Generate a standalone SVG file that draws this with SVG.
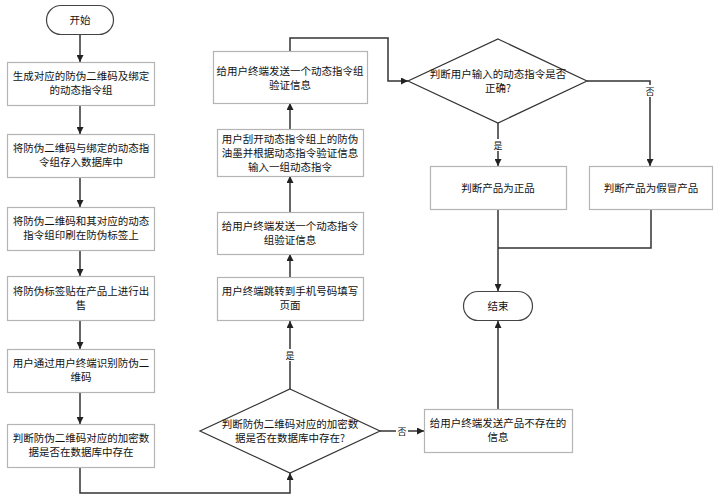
<svg xmlns="http://www.w3.org/2000/svg" width="718" height="500" viewBox="0 0 718 500">
<defs>
<marker id="ah" viewBox="0 0 10 10" refX="10" refY="5" markerWidth="7" markerHeight="7" orient="auto" markerUnits="userSpaceOnUse">
<path d="M0,0 L10,5 L0,10 z" fill="#222"/>
</marker>
<style>
.box{fill:#fff;stroke:#b4b4b4;stroke-width:1.2}
.term{fill:#fff;stroke:#444;stroke-width:1.2}
.dia{fill:#fff;stroke:#333;stroke-width:1.2}
.ln{fill:none;stroke:#333;stroke-width:1.5;marker-end:url(#ah)}
.ln0{fill:none;stroke:#333;stroke-width:1.5}
text{font-family:"Noto Sans CJK SC","Noto Sans",sans-serif;font-size:10.5px;fill:#111;text-anchor:middle}
.lb{font-size:9px}
</style>
</defs>
<rect width="718" height="500" fill="#fff"/>
<g id="connectors">
<path class="ln" d="M80,35 V62"/>
<path class="ln" d="M80,106 V134"/>
<path class="ln" d="M80,178 V207"/>
<path class="ln" d="M80,251 V276"/>
<path class="ln" d="M80,321 V349"/>
<path class="ln" d="M80,392 V424"/>
<path class="ln" d="M80,467 V493 H290 V473"/>
<path class="ln" d="M290,389 V321"/>
<path class="ln" d="M290,277 V254"/>
<path class="ln" d="M290,212 V176"/>
<path class="ln" d="M290,129 V103"/>
<path class="ln" d="M290,51 V38 H388 V81 H408"/>
<path class="ln" d="M380,431 H424"/>
<path class="ln" d="M498,123 V166"/>
<path class="ln" d="M587,81 H650 V166"/>
<path class="ln0" d="M651,209 V248 H498"/>
<path class="ln" d="M498,209 V291"/>
<path class="ln" d="M498,409 V321"/>
<rect x="284" y="349" width="12" height="12" fill="#fff"/>
<text class="lb" x="290" y="359">是</text>
<rect x="396" y="425" width="12" height="12" fill="#fff"/>
<text class="lb" x="402" y="435">否</text>
<rect x="492" y="139" width="12" height="12" fill="#fff"/>
<text class="lb" x="498" y="149">是</text>
<rect x="644" y="85" width="12" height="12" fill="#fff"/>
<text class="lb" x="650" y="95">否</text>
</g>
<g id="start"><rect class="term" x="46.5" y="5.5" width="67" height="29" rx="14.5"/><text x="80" y="24">开始</text></g>
<g id="n1"><rect class="box" x="7.5" y="62.5" width="147" height="43"/><text x="81" y="80">生成对应的防伪二维码及绑定</text><text x="81" y="94">的动态指令组</text></g>
<g id="n2"><rect class="box" x="7.5" y="134.5" width="147" height="43"/><text x="81" y="152">将防伪二维码与绑定的动态指</text><text x="81" y="166">令组存入数据库中</text></g>
<g id="n3"><rect class="box" x="7.5" y="207.5" width="147" height="43"/><text x="81" y="225">将防伪二维码和其对应的动态</text><text x="81" y="239">指令组印刷在防伪标签上</text></g>
<g id="n4"><rect class="box" x="7.5" y="276.5" width="147" height="44"/><text x="81" y="295">将防伪标签贴在产品上进行出</text><text x="81" y="309">售</text></g>
<g id="n5"><rect class="box" x="7.5" y="349.5" width="147" height="43"/><text x="81" y="367">用户通过用户终端识别防伪二</text><text x="81" y="381">维码</text></g>
<g id="n6"><rect class="box" x="7.5" y="424.5" width="147" height="43"/><text x="81" y="442">判断防伪二维码对应的加密数</text><text x="81" y="456">据是否在数据库中存在</text></g>
<g id="d1"><polygon class="dia" points="290,389 380,431 290,473 200,431"/><text x="290" y="428">判断防伪二维码对应的加密数</text><text x="290" y="442">据是否在数据库中存在?</text></g>
<g id="m4"><rect class="box" x="217.5" y="277.5" width="146" height="43"/><text x="290" y="295">用户终端跳转到手机号码填写</text><text x="290" y="309">页面</text></g>
<g id="m3"><rect class="box" x="217.5" y="212.5" width="146" height="42"/><text x="290" y="230">给用户终端发送一个动态指令</text><text x="290" y="244">组验证信息</text></g>
<g id="m2"><rect class="box" x="217.5" y="129.5" width="146" height="47"/><text x="290" y="143">用户刮开动态指令组上的防伪</text><text x="290" y="157">油墨并根据动态指令验证信息</text><text x="290" y="171">输入一组动态指令</text></g>
<g id="m1"><rect class="box" x="213.5" y="51.5" width="154" height="52"/><text x="290" y="75">给用户终端发送一个动态指令组</text><text x="290" y="89">验证信息</text></g>
<g id="d2"><polygon class="dia" points="498,39 587,81 498,123 408,81"/><text x="498" y="78">判断用户输入的动态指令是否</text><text x="498" y="92">正确?</text></g>
<g id="r1"><rect class="box" x="430.5" y="166.5" width="136" height="43"/><text x="498" y="192">判断产品为正品</text></g>
<g id="r2"><rect class="box" x="589.5" y="166.5" width="123" height="43"/><text x="651" y="192">判断产品为假冒产品</text></g>
<g id="end"><rect class="term" x="463.5" y="291.5" width="69" height="29" rx="14.5"/><text x="498" y="310">结束</text></g>
<g id="r3"><rect class="box" x="424.5" y="409.5" width="148" height="43"/><text x="498" y="427">给用户终端发送产品不存在的</text><text x="498" y="441">信息</text></g>
</svg>
